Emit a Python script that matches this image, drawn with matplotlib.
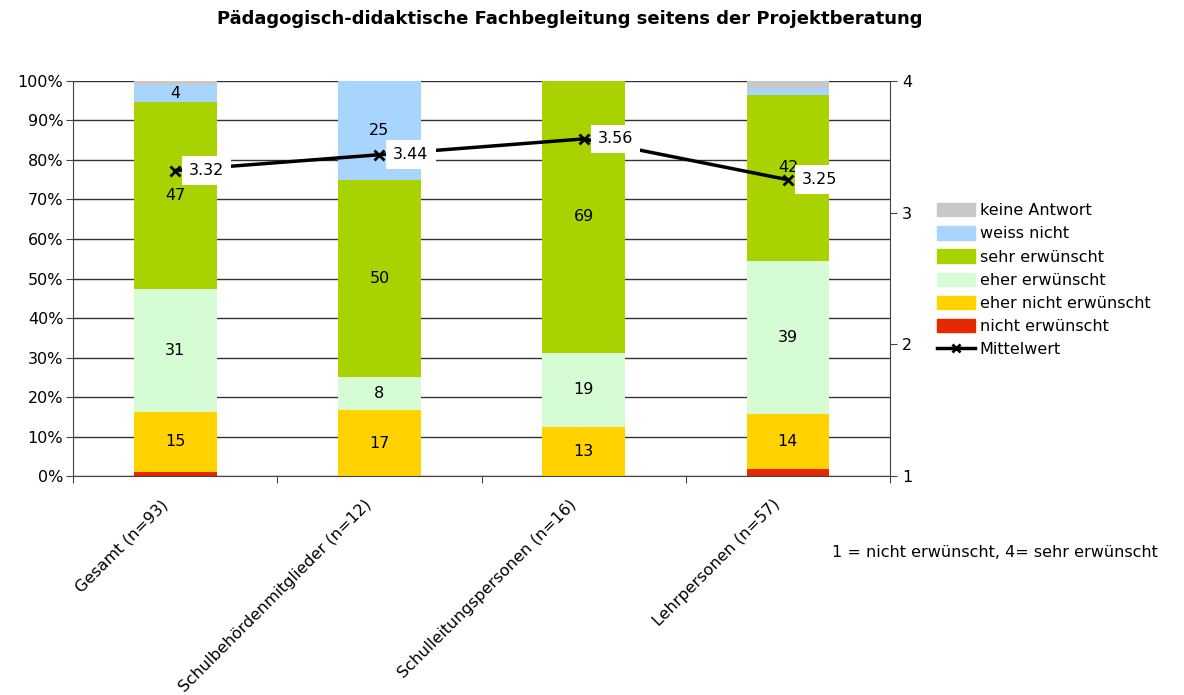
import matplotlib
matplotlib.use("Agg")
import matplotlib.pyplot as plt
import numpy as np
from matplotlib.patches import Patch
from matplotlib.lines import Line2D

categories = ["Gesamt (n=93)", "Schulbehördenmitglieder (n=12)",
              "Schulleitungspersonen (n=16)", "Lehrpersonen (n=57)"]
series_names = ["nicht erwünscht", "eher nicht erwünscht", "eher erwünscht",
                "sehr erwünscht", "weiss nicht", "keine Antwort"]
nicht_erwuenscht = [1.1, 0.0, 0.0, 1.75]
eher_nicht_erwuenscht = [15.05, 16.7, 12.5, 14.0]
eher_erwuenscht = [31.2, 8.3, 18.75, 38.6]
sehr_erwuenscht = [47.3, 50.0, 68.75, 42.1]
weiss_nicht = [4.3, 25.0, 0.0, 1.75]
keine_antwort = [1.05, 0.0, 0.0, 1.8]
mittelwert = [3.32, 3.44, 3.56, 3.25]

colors = ["#E62800", "#FFD200", "#D5FCD5", "#A9D300", "#A8D5FE", "#C8C8C8"]

FS = 11.5
plt.rcParams['font.family'] = ['DejaVu Sans']
fig = plt.figure(figsize=(11.84, 6.95), dpi=100)
ax = fig.add_axes([0.0617, 0.315, 0.69, 0.5685])
x = np.arange(len(categories))
series = [nicht_erwuenscht, eher_nicht_erwuenscht, eher_erwuenscht,
          sehr_erwuenscht, weiss_nicht, keine_antwort]
mean_pct = [(m - 1) / 3 * 100 for m in mittelwert]
bottom = np.zeros(len(categories))
for vals, col in zip(series, colors):
    vals = np.array(vals)
    ax.bar(x, vals, bottom=bottom, width=0.405, color=col, zorder=2)
    for i, (xi, v, b) in enumerate(zip(x, vals, bottom)):
        if v >= 3:
            yc = b + v / 2
            if abs(yc - mean_pct[i]) < 4:
                yc = mean_pct[i] + 3.2
            ax.text(xi, yc, f"{int(v + 0.5)}", ha="center", va="center",
                    fontsize=FS, color="black", zorder=3)
    bottom += vals

ax.set_xlim(-0.5, len(categories) - 0.5)
ax.set_ylim(0, 100)
ax.set_yticks(np.arange(0, 101, 10))
ax.set_yticklabels([f"{v}%" for v in range(0, 101, 10)], fontsize=FS)
ax.yaxis.grid(True, color="#333333", lw=1, zorder=0)
ax.set_axisbelow(True)
ax.set_xticks(np.arange(-0.5, len(categories), 1))
ax.set_xticklabels([])
for xi, cat in zip(x, categories):
    ax.annotate(cat, xy=(xi, 0), xycoords=("data", "axes fraction"),
                xytext=(-11, -15), textcoords="offset points",
                rotation=45, ha="right", va="top", rotation_mode="anchor",
                fontsize=FS)
ax.tick_params(axis="x", length=5, color="#444444")
ax.tick_params(axis="y", length=5, color="#444444", pad=2)
for s in ["top", "right"]:
    ax.spines[s].set_visible(False)
for s in ["left", "bottom"]:
    ax.spines[s].set_color("#444444")

ax2 = ax.twinx()
ax2.set_ylim(1, 4)
ax2.set_yticks([1, 2, 3, 4])
ax2.tick_params(axis="y", length=5, color="#444444", labelsize=FS)
for s in ["top", "left", "bottom"]:
    ax2.spines[s].set_visible(False)
ax2.spines["right"].set_color("#444444")
ax2.plot(x, mittelwert, color="black", lw=2.5, marker="x", ms=7, mew=2, zorder=4)
for xi, m in zip(x, mittelwert):
    ax2.annotate(f"{m:.2f}", (xi, m), xytext=(10, 0), textcoords="offset points",
                 ha="left", va="center", fontsize=FS,
                 bbox=dict(facecolor="white", edgecolor="none", pad=5), zorder=5)

fig.text(0.481, 0.972, "Pädagogisch-didaktische Fachbegleitung seitens der Projektberatung",
         ha="center", va="center", fontsize=13, fontweight="bold")
fig.text(0.703, 0.205, "1 = nicht erwünscht, 4= sehr erwünscht",
         ha="left", va="center", fontsize=FS)

handles = [Patch(color=c) for c in colors[::-1]] + \
          [Line2D([], [], color="black", lw=2.5, marker="x", ms=6, mew=2)]
labels = series_names[::-1] + ["Mittelwert"]
fig.legend(handles, labels, loc="center left", bbox_to_anchor=(0.791, 0.597),
           frameon=False, fontsize=FS, handlelength=2.4, handleheight=0.9,
           handletextpad=0.3, labelspacing=0.5, borderpad=0, borderaxespad=0)

fig.savefig("out.png", dpi=100)
